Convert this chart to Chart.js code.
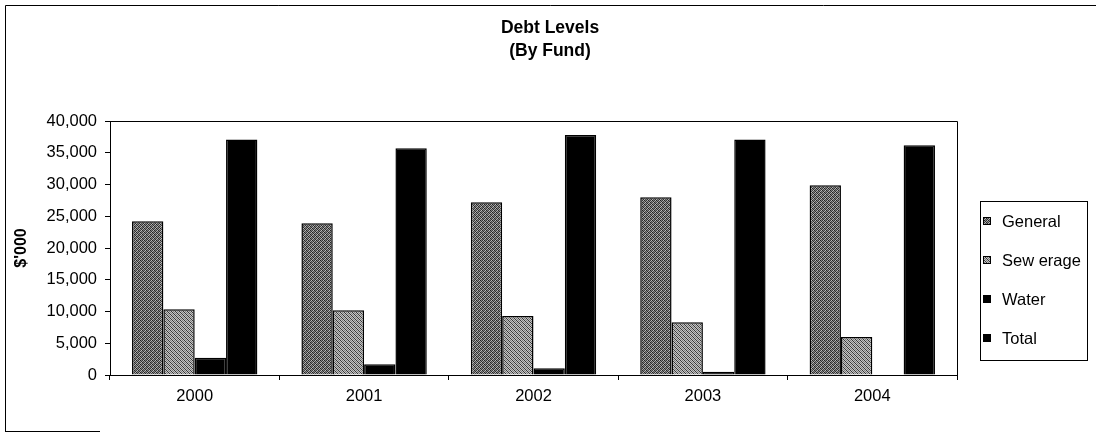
<!DOCTYPE html>
<html>
<head>
<meta charset="utf-8">
<script src="https://cdn.jsdelivr.net/npm/chart.js@4"></script>
<style>
  html, body { margin: 0; padding: 0; background: #fff; }
  #wrap { position: relative; width: 1096px; height: 432px; }
</style>
</head>
<body>
<div id="wrap"><canvas id="c" width="1096" height="432"></canvas></div>
<script>
// Debt levels by fund, $'000
const years = ['2000', '2001', '2002', '2003', '2004'];
const general = [24200, 23900, 27200, 28000, 29900];
const sewerage = [10350, 10200, 9300, 8300, 6000];
const water = [2700, 1700, 1050, 500, 0];
const total = [37100, 35700, 37800, 37100, 36200];
const seriesNames = ['General', 'Sew erage', 'Water', 'Total'];
const yMin = 0, yMax = 40000, yStep = 5000;

const FONT = '"Liberation Sans", Arial, sans-serif';

// Small dithered tiles used as the fill for the two grey series
const tmp = document.createElement('canvas').getContext('2d');
function tilePattern(levels) {
  const n = levels.length;
  const cv = document.createElement('canvas');
  cv.width = n; cv.height = n;
  const cx = cv.getContext('2d');
  for (let y = 0; y < n; y++) for (let x = 0; x < n; x++) {
    const g = levels[y][x];
    cx.fillStyle = `rgb(${g},${g},${g})`;
    cx.fillRect(x, y, 1, 1);
  }
  return tmp.createPattern(cv, 'repeat');
}
const generalFill = tilePattern([
  [30, 130, 55, 185],
  [150, 45, 165, 70],
  [65, 190, 35, 125],
  [175, 80, 130, 45]
]);
const sewerageFill = tilePattern([
  [55, 195, 125, 195],
  [195, 55, 195, 125],
  [125, 195, 55, 195],
  [195, 125, 195, 55]
]);
const fills = [generalFill, sewerageFill, '#000', '#000'];

// Title, legend box, plot frame and page frame
const decorations = {
  id: 'decorations',
  afterDraw(chart) {
    const ctx = chart.ctx;
    const a = chart.chartArea;
    ctx.save();
    ctx.strokeStyle = '#000';
    ctx.lineWidth = 1;

    // page frame
    ctx.beginPath();
    ctx.moveTo(5.5, 431); ctx.lineTo(5.5, 5.5); ctx.lineTo(1096, 5.5);
    ctx.moveTo(5, 431.5); ctx.lineTo(100, 431.5);
    ctx.stroke();

    // plot area top and right edges
    ctx.beginPath();
    ctx.moveTo(Math.round(a.left) + 0.5, Math.round(a.top) + 0.5);
    ctx.lineTo(Math.round(a.right) + 0.5, Math.round(a.top) + 0.5);
    ctx.lineTo(Math.round(a.right) + 0.5, Math.round(a.bottom) + 0.5);
    ctx.stroke();

    // title
    ctx.fillStyle = '#000';
    ctx.textAlign = 'center';
    ctx.textBaseline = 'middle';
    ctx.font = 'bold 17.5px ' + FONT;
    ctx.fillText('Debt Levels', 550, 28);
    ctx.fillText('(By Fund)', 550, 51);

    // legend
    ctx.strokeRect(980.5, 201.5, 107, 159);
    ctx.textAlign = 'left';
    ctx.font = '16.5px ' + FONT;
    chart.data.datasets.forEach((ds, i) => {
      const cy = 221 + 39 * i;
      ctx.fillStyle = ds.backgroundColor;
      ctx.fillRect(983, cy - 4, 8, 8);
      ctx.strokeRect(983.5, cy - 3.5, 7, 7);
      ctx.fillStyle = '#000';
      ctx.fillText(ds.label, 1002, cy + 1);
    });
    ctx.restore();
  }
};

const seriesValues = [general, sewerage, water, total];

new Chart(document.getElementById('c'), {
  type: 'bar',
  data: {
    labels: years,
    datasets: seriesNames.map((name, i) => ({
      label: name,
      data: seriesValues[i],
      backgroundColor: fills[i],
      borderColor: '#000',
      borderWidth: 1.5,
      categoryPercentage: 0.74,
      barPercentage: 1.0
    }))
  },
  options: {
    responsive: false,
    animation: false,
    devicePixelRatio: 1,
    layout: { padding: { left: 0, right: 139, top: 121, bottom: 0 } },
    plugins: {
      legend: { display: false },
      title: { display: false },
      tooltip: { enabled: false }
    },
    scales: {
      x: {
        afterFit(s) { s.height = 57; },
        border: { display: true, color: '#000', width: 1 },
        grid: { display: true, drawOnChartArea: false, drawTicks: true, tickLength: 5, color: '#000', offset: true },
        ticks: { color: '#000', font: { family: FONT, size: 16.5 }, padding: 7, maxRotation: 0 }
      },
      y: {
        min: yMin,
        max: yMax,
        afterFit(s) { s.width = 110; },
        border: { display: true, color: '#000', width: 1 },
        grid: { display: true, drawOnChartArea: false, drawTicks: true, tickLength: 5, color: '#000' },
        ticks: {
          stepSize: yStep,
          color: '#000',
          font: { family: FONT, size: 16.5 },
          padding: 8,
          callback: v => v.toLocaleString('en-US')
        },
        title: {
          display: true,
          text: "$'000",
          color: '#000',
          font: { family: FONT, size: 16, weight: 'bold' },
          padding: { top: 12, bottom: 0 }
        }
      }
    }
  },
  plugins: [decorations]
});
</script>
</body>
</html>
